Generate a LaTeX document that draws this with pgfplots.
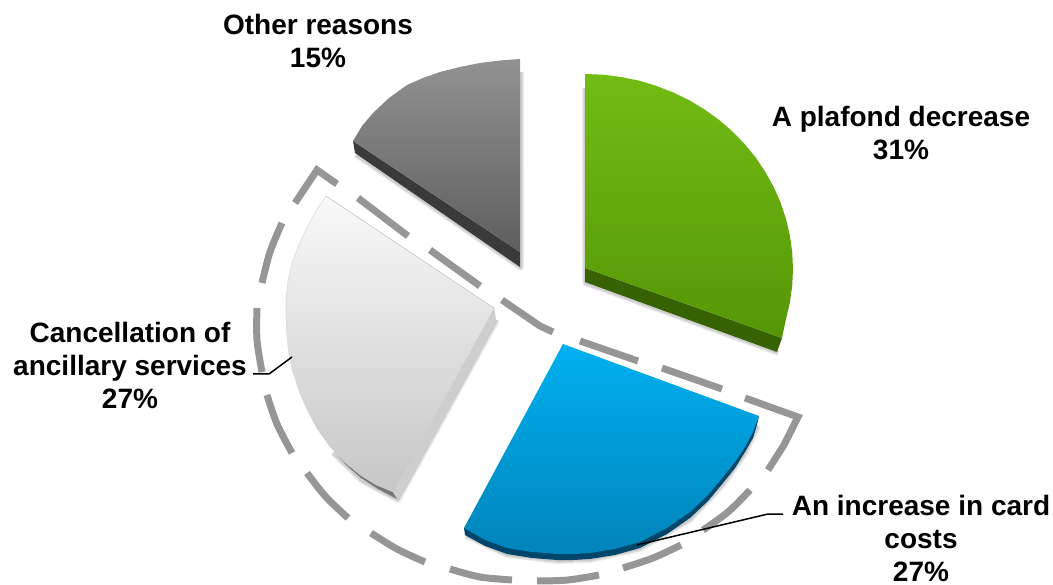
\documentclass[border=0pt]{standalone}
\usepackage{fontspec}
\setmainfont{Liberation Sans}
\usepackage{pgfplots}
\pgfplotsset{compat=1.18}
\definecolor{greenA}{HTML}{72BC14}
\definecolor{greenB}{HTML}{559606}
\definecolor{greenS}{HTML}{366203}
\definecolor{blueA}{HTML}{00B0F0}
\definecolor{blueB}{HTML}{0084BA}
\definecolor{blueS}{HTML}{00466A}
\definecolor{paleA}{HTML}{F9F9F9}
\definecolor{paleB}{HTML}{C6C6C6}
\definecolor{paleS}{HTML}{CECECE}
\definecolor{paleD}{HTML}{777777}
\definecolor{darkA}{HTML}{929292}
\definecolor{darkB}{HTML}{5E5E5E}
\definecolor{darkS}{HTML}{3A3A3A}
\definecolor{ring}{HTML}{969696}
\tikzset{
  topface/.style={draw=none, shade, shading=axis, shading angle=-8},
  sidefill/.style={draw=none, fill=#1, mark=none},
  softline/.style={draw=black, opacity=0.07, line width=#1, line join=round, fill=none, mark=none},
  lbl/.style={font=\fontsize{28}{33}\selectfont\bfseries, align=center, text=black, inner sep=0pt},
  ringarc/.style={draw=ring, line width=7pt, line cap=butt, smooth, tension=0.55},
}
\begin{document}
\begin{tikzpicture}
\begin{axis}[
  scale only axis, width=1053pt, height=585pt,
  xmin=0, xmax=1053, ymin=0, ymax=585, y dir=reverse,
  hide axis, clip=false,
  every axis plot/.append style={mark=none},
]
% the page spans the whole plot area
\path (axis cs:0,0) rectangle (axis cs:1053,585);
% soft shadows behind the slices
\pgfplotsinvokeforeach{2pt,4pt,6pt}{
  \addplot[softline=#1] coordinates {(585,88) (585,283) (778,353)};
  \addplot[softline=#1] coordinates {(521,72) (521,268) (356,155)};
  \addplot[softline=#1] coordinates {(497,320) (398,500) (362,481) (333,453)};
  \addplot[softline=#1] coordinates {(466,536) (507,555) (557,561) (590,560) (640,549) (690,520) (723,485) (745,454) (758,426)};
}
% side faces
\addplot[sidefill=greenS] coordinates {(585,268) (585,282) (777,352) (782,338)};
\addplot[sidefill=darkS] coordinates {(353,141) (355,153) (520,267) (520,252)};
\addplot[sidefill=paleS] coordinates {(494,306) (496,320) (397,499) (393,490)};
\addplot[sidefill=paleD] coordinates {(335,452) (344,462) (360,475) (376,485) (393,492) (397,499) (378,489) (361,478) (345,464) (335,452)};
\addplot[sidefill=blueS] coordinates {(759,416) (757,425) (753,438) (745,452) (735,468) (723,483) (708,501) (690,518) (667,534) (640,548) (615,555) (590,559) (573,560) (557,560) (532,558) (507,554) (485,546) (465,535) (464,528)};
% top faces
\addplot[topface, top color=greenA, bottom color=greenB] coordinates {
  (585,74) (603.1,74.7) (621.1,77) (638.8,80.6) (656.1,85.8) (672.9,92.3) (689,100.1) (704.3,109.3) (718.7,119.6) (732.1,131.1) (744.3,143.7) (755.4,157.1) (765.1,171.5) (773.5,186.6) (780.5,202.3) (785.9,218.5) (789.8,235.1) (792.2,252) (793,269) (792.2,286) (789.8,302.9) (785.9,319.5) (782,338)
  (585,268) (585,74)};
\addplot[topface, top color=darkA, bottom color=darkB] coordinates {
  (520,59) (500,60.5) (480,63) (460,67) (440,72) (423,78) (407,85) (389,98) (373,113) (362,126) (353,141)
  (520,252) (520,59)};
\addplot[topface, top color=paleA, bottom color=paleB] coordinates {
  (326,196) (316,211) (307,227) (299,245) (292,263) (288,281) (286,300) (286,318) (287,337) (289,355) (293,373) (299,392) (307,410) (317,429) (330,447) (344,462) (360,475) (376,485) (393,492)
  (494,308) (326,196)};
\addplot[topface, top color=blueA, bottom color=blueB] coordinates {
  (563,344) (759,416) (753,432) (745,447) (735,462) (723,477) (708,495) (690,512) (667,528) (640,542) (615,549) (590,553) (573,554) (557,554) (532,552) (507,548) (485,540) (464,528)
  (563,344)};
% hairline along the pale slice
\addplot[draw=black!22, line width=0.6pt] coordinates {(494,308) (326,196)};
\addplot[draw=black!14, line width=0.6pt] coordinates {(326,196) (316,211) (307,227) (299,245) (292,263) (288,281) (286,300) (286,318) (287,337) (289,355) (293,373)};
% dashed ring around the two highlighted slices
\addplot[draw=ring, line width=7pt, miter limit=10, line cap=butt, unbounded coords=jump] coordinates {
  (295,203) (317,170) (337,184)
  (nan,nan)
  (358,198) (408,236)
  (nan,nan)
  (430,250) (480,286)
  (nan,nan)
  (502,300) (540,326) (553,332)
  (nan,nan)
  (580,341) (638,361)
  (nan,nan)
  (662,368) (722,389)
  (nan,nan)
  (745,398) (798,417) (784,445) (768,470)
};
\addplot[ringarc] coordinates {(750,490) (728,512) (703,530)};
\addplot[ringarc] coordinates {(681,545) (653,558) (623,568)};
\addplot[ringarc] coordinates {(599,575) (568,580) (537,581)};
\addplot[ringarc] coordinates {(512,580) (480,577) (450,569)};
\addplot[ringarc] coordinates {(425,562) (397,549) (371,533)};
\addplot[ringarc] coordinates {(348,518) (326,497) (307,473)};
\addplot[ringarc] coordinates {(292,453) (277,424) (267,395)};
\addplot[ringarc] coordinates {(262,372) (257,340) (257,308)};
\addplot[ringarc] coordinates {(262,283) (270,252) (282,223)};
% leader lines
\addplot[draw=black, line width=1.5pt] coordinates {(292,357) (269,374) (253,374)};
\addplot[draw=black, line width=1.5pt] coordinates {(637,545) (768,514) (783,514)};
% labels
\node[lbl] at (axis cs:318,41) {Other reasons\\15\%};
\node[lbl] at (axis cs:901,133) {A plafond decrease\\31\%};
\node[lbl] at (axis cs:130,365) {Cancellation of\\ancillary services\\27\%};
\node[lbl] at (axis cs:921,538) {An increase in card\\costs\\27\%};
\end{axis}
\end{tikzpicture}
\end{document}
